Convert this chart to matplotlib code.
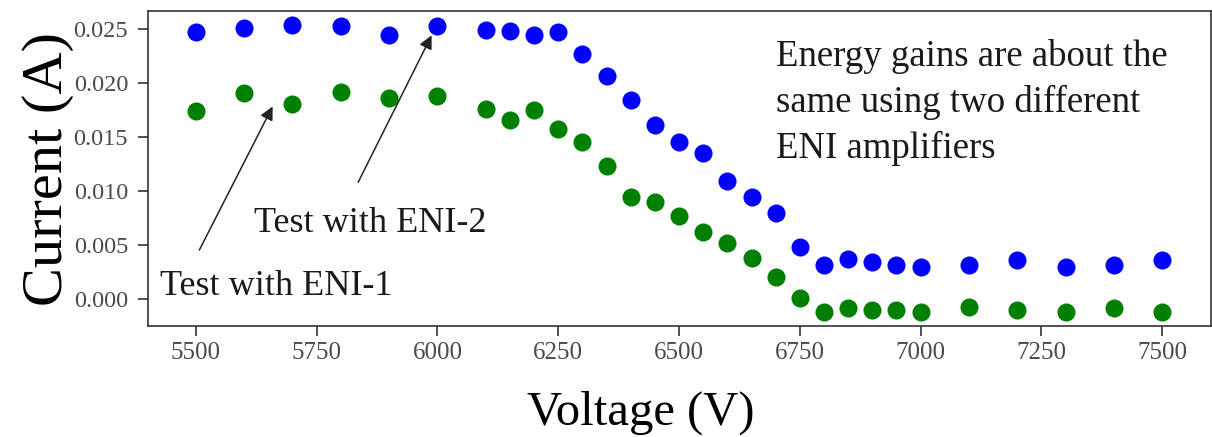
import matplotlib
matplotlib.use('Agg')
from matplotlib import pyplot as plt
from matplotlib.ticker import MultipleLocator, FormatStrFormatter

# voltages where current was measured
voltage = [5500, 5600, 5700, 5800, 5900, 6000, 6100, 6150, 6200, 6250,
           6300, 6350, 6400, 6450, 6500, 6550, 6600, 6650, 6700, 6750,
           6800, 6850, 6900, 6950, 7000, 7100, 7200, 7300, 7400, 7500]

# test with ENI-2 (blue)
current_eni2 = [0.02472, 0.02509, 0.02533, 0.02524, 0.02441, 0.02524, 0.02487, 0.02478, 0.02441, 0.02472,
                0.02268, 0.02061, 0.01845, 0.01607, 0.01450, 0.01352, 0.01095, 0.00944, 0.00793, 0.00481,
                0.00311, 0.00370, 0.00343, 0.00311, 0.00296, 0.00311, 0.00364, 0.00296, 0.00311, 0.00364]

# test with ENI-1 (green)
current_eni1 = [0.01743, 0.01907, 0.01808, 0.01913, 0.01861, 0.01876, 0.01759, 0.01660, 0.01746, 0.01577,
                0.01450, 0.01234, 0.00941, 0.00894, 0.00771, 0.00617, 0.00519, 0.00380, 0.00209, 0.00015,
                -0.00115, -0.00083, -0.00099, -0.00099, -0.00115, -0.00069, -0.00099, -0.00120, -0.00083, -0.00115]

plt.rcParams['font.family'] = ['Liberation Serif', 'DejaVu Serif']

fig = plt.figure(figsize=(12.12, 4.37), dpi=100)
ax = fig.add_axes([0.1217, 0.2529, 0.8771, 0.7226])

ax.scatter(voltage, current_eni2, s=169, color='#0000ff', linewidths=0, zorder=3)
ax.scatter(voltage, current_eni1, s=169, color='#008000', linewidths=0, zorder=3)

ax.xaxis.set_major_locator(MultipleLocator(250))
ax.yaxis.set_major_locator(MultipleLocator(0.005))
ax.yaxis.set_major_formatter(FormatStrFormatter('%.3f'))

ax.tick_params(axis='x', labelsize=18, colors='#333333', labelcolor='#4a4a4a',
               length=7, width=1.2, pad=4)
ax.tick_params(axis='y', labelsize=17.5, colors='#333333', labelcolor='#4a4a4a',
               length=7, width=1.2, pad=7)
for spine in ax.spines.values():
    spine.set_color('#333333')
    spine.set_linewidth(1.2)

ax.set_xlabel('Voltage (V)', fontsize=35, va='baseline')
ax.xaxis.set_label_coords(0.464, -0.312)
ax.set_ylabel('Current (A)', fontsize=42)
ax.yaxis.set_label_coords(-0.069, 0.5)

# annotations pointing at the two series
ax.annotate('Test with ENI-2', xy=(5988, 0.02438), xytext=(5860, 0.00623),
            fontsize=26, color='#1a1a1a', ha='center', va='baseline',
            arrowprops=dict(arrowstyle='-|>', color='#222222', lw=1.1,
                            mutation_scale=20, shrinkA=0, shrinkB=0,
                            patchA=None, relpos=(0.45, 1.74)))
ax.annotate('Test with ENI-1', xy=(5659, 0.01781), xytext=(5666, 0.0004),
            fontsize=26, color='#1a1a1a', ha='center', va='baseline',
            arrowprops=dict(arrowstyle='-|>', color='#222222', lw=1.1,
                            mutation_scale=20, shrinkA=0, shrinkB=0,
                            patchA=None, relpos=(0.17, 1.6)))

ax.text(0.591, 0.534, 'Energy gains are about the\nsame using two different\nENI amplifiers',
        transform=ax.transAxes, fontsize=26.5, color='#1a1a1a',
        ha='left', va='baseline', linespacing=1.4)

fig.savefig('out.png', dpi=100)
